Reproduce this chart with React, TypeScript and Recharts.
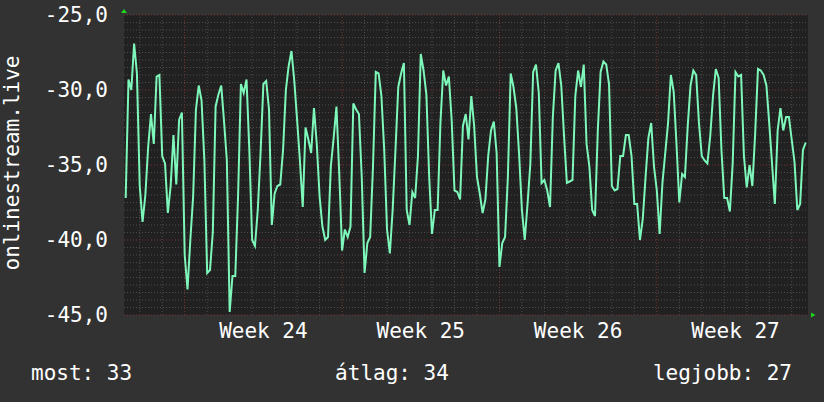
import {
  LineChart,
  Line,
  XAxis,
  YAxis,
  CartesianGrid,
  ReferenceLine,
  ReferenceDot,
} from "recharts";

// hours relative to the start of week 24, one reading every 3 hours
const START_HOUR = -63;
const STEP_HOURS = 3;

const signal = [
  -37.2, -29.3, -30.0, -26.9, -28.9, -36.4, -38.8, -37.0,
  -33.8, -31.6, -33.6, -29.1, -29.0, -34.4, -34.9, -38.2,
  -36.4, -33.0, -36.3, -32.0, -31.5, -41.0, -43.3, -40.0,
  -37.1, -31.3, -29.7, -30.7, -34.7, -42.2, -42.0, -39.5,
  -31.1, -30.3, -29.7, -32.1, -34.7, -44.8, -42.4, -42.4,
  -37.0, -29.6, -30.2, -29.3, -34.0, -40.0, -40.4, -38.0,
  -34.2, -29.6, -29.4, -31.3, -39.0, -36.9, -36.4, -36.3,
  -34.0, -30.0, -28.4, -27.4, -29.4, -32.0, -34.7, -37.8,
  -32.5, -33.3, -34.2, -31.2, -33.6, -37.1, -39.1, -40.0,
  -39.8, -35.1, -33.2, -31.1, -35.6, -40.7, -39.3, -39.8,
  -39.1, -30.9, -31.3, -31.6, -35.8, -42.2, -40.2, -39.8,
  -35.1, -28.8, -28.9, -30.4, -34.0, -39.3, -40.9, -38.0,
  -34.0, -29.8, -28.9, -28.2, -38.0, -39.0, -36.8, -37.2,
  -34.4, -27.6, -28.7, -30.3, -35.8, -39.6, -38.0, -38.0,
  -32.2, -28.7, -29.7, -29.1, -32.0, -36.7, -36.8, -37.3,
  -32.4, -31.6, -33.3, -30.4, -32.4, -35.8, -36.9, -38.2,
  -37.3, -34.4, -32.7, -32.1, -34.2, -41.8, -40.2, -39.8,
  -35.8, -28.9, -29.8, -31.2, -34.3, -38.0, -40.0, -37.6,
  -34.9, -28.8, -28.3, -30.2, -36.2, -36.0, -36.7, -37.8,
  -31.8, -28.7, -28.2, -29.7, -33.1, -36.2, -36.1, -36.0,
  -30.4, -28.7, -29.8, -28.3, -33.6, -35.1, -38.0, -38.4,
  -32.7, -28.8, -28.1, -28.3, -29.6, -36.4, -36.7, -36.6,
  -34.4, -34.4, -33.0, -33.0, -34.4, -37.6, -37.6, -40.0,
  -38.6, -35.8, -33.2, -32.2, -35.1, -36.7, -39.6, -36.2,
  -34.2, -32.2, -29.0, -30.1, -33.6, -37.5, -35.6, -35.8,
  -32.4, -29.7, -28.7, -29.0, -32.2, -34.4, -34.7, -34.9,
  -33.1, -30.4, -28.6, -29.2, -34.0, -37.2, -37.2, -38.1,
  -34.9, -28.8, -29.1, -29.0, -34.4, -36.5, -35.0, -36.4,
  -32.9, -28.6, -28.7, -29.0, -29.7, -32.2, -34.9, -37.6,
  -32.7, -31.2, -32.7, -31.8, -31.8, -33.3, -34.8, -38.0,
  -37.6, -34.0, -33.5,
];

const weekStarts = [0, 168, 336, 504];
const weekLabelHours = [84, 252, 420, 588];
const weekNames = ["Week 24", "Week 25", "Week 26", "Week 27"];
const yTicks = [-45, -40, -35, -30, -25];
const legendLeft = "most: 33";
const legendMid = "átlag: 34";
const legendRight = "legjobb: 27";

const X_DOMAIN: [number, number] = [-64.8, 665.4];
const FONT = "'DejaVu Sans Mono', monospace";
const LINE_COLOR = "#7ef7ba";
const MINOR = "#4d4d4d";
const MAJOR = "#7a3434";
const ARROW = "#1ed81e";

const data = signal.map((v, i) => ({ h: START_HOUR + i * STEP_HOURS, v }));

const dayLines: number[] = [];
for (let h = -48; h <= 648; h += 24) if (h % 168 !== 0) dayLines.push(h);
const minorY: number[] = [];
for (let i = 1; i < 40; i++) if (i % 10 !== 0) minorY.push(-45 + i * 0.5);

const UpArrow = (p: any) => (
  <polygon
    points={`${p.cx - 3},${p.cy - 2} ${p.cx + 3},${p.cy - 2} ${p.cx},${p.cy - 6}`}
    fill={ARROW}
  />
);
const RightArrow = (p: any) => (
  <polygon
    points={`${p.cx + 3},${p.cy - 2.5} ${p.cx + 3},${p.cy + 2.5} ${p.cx + 7.5},${p.cy}`}
    fill={ARROW}
  />
);

export default function App() {
  return (
    <div
      style={{
        position: "absolute",
        left: 0,
        top: 0,
        width: 824,
        height: 402,
        background: "#323232",
        fontFamily: FONT,
      }}
    >
      <LineChart
        width={824}
        height={402}
        data={data}
        margin={{ top: 15, right: 16, bottom: 0, left: 0 }}
      >
        <CartesianGrid fill="#212121" horizontal={false} vertical={false} />
        <XAxis
          dataKey="h"
          type="number"
          domain={X_DOMAIN}
          allowDataOverflow
          ticks={weekLabelHours}
          tickFormatter={(h: number) => weekNames[weekLabelHours.indexOf(h)]}
          height={87}
          tickLine={false}
          axisLine={false}
          tickSize={0}
          tickMargin={8}
          tick={{ fill: "#ffffff", fontSize: 21, fontFamily: FONT }}
        />
        <YAxis
          type="number"
          domain={[-45, -25]}
          ticks={yTicks}
          tickFormatter={(v: number) => v.toFixed(1).replace(".", ",")}
          width={124}
          tickLine={false}
          axisLine={false}
          tickSize={0}
          tickMargin={16}
          tick={{ fill: "#ffffff", fontSize: 21, fontFamily: FONT }}
        />
        {minorY.map((y) => (
          <ReferenceLine key={`my${y}`} y={y} stroke={MINOR} strokeDasharray="1 2" />
        ))}
        {dayLines.map((x) => (
          <ReferenceLine key={`mx${x}`} x={x} stroke={MINOR} strokeDasharray="1 2" />
        ))}
        {yTicks.map((y) => (
          <ReferenceLine key={`My${y}`} y={y} stroke={MAJOR} strokeDasharray="1 2" />
        ))}
        {weekStarts.map((x) => (
          <ReferenceLine key={`Mx${x}`} x={x} stroke={MAJOR} strokeDasharray="1 2" />
        ))}
        <Line
          type="linear"
          dataKey="v"
          stroke={LINE_COLOR}
          strokeWidth={2}
          dot={false}
          isAnimationActive={false}
        />
        <ReferenceDot x={X_DOMAIN[0]} y={-25} r={0} ifOverflow="visible" shape={UpArrow} />
        <ReferenceDot x={X_DOMAIN[1]} y={-45} r={0} ifOverflow="visible" shape={RightArrow} />
      </LineChart>
      <svg
        width={824}
        height={402}
        style={{ position: "absolute", left: 0, top: 0, pointerEvents: "none" }}
      >
        <text
          transform="translate(18.5,163) rotate(-90)"
          textAnchor="middle"
          fill="#ffffff"
          fontSize={21}
          fontFamily={FONT}
        >
          onlinestream.live
        </text>
        <text x={31} y={380} fill="#ffffff" fontSize={21} fontFamily={FONT}>
          {legendLeft}
        </text>
        <text x={392} y={380} textAnchor="middle" fill="#ffffff" fontSize={21} fontFamily={FONT}>
          {legendMid}
        </text>
        <text x={792} y={380} textAnchor="end" fill="#ffffff" fontSize={21} fontFamily={FONT}>
          {legendRight}
        </text>
      </svg>
    </div>
  );
}
